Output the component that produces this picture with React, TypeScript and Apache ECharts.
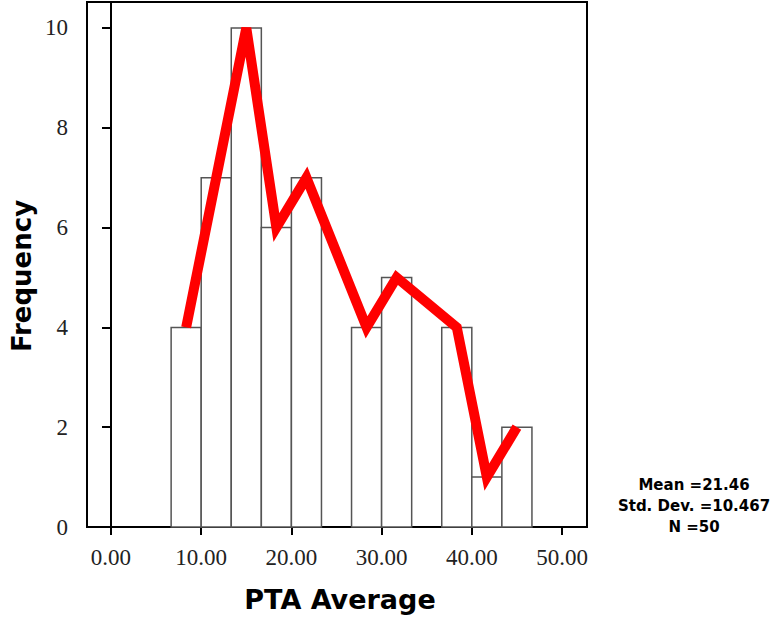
import React, { useEffect, useRef } from "react";
import * as echarts from "echarts";

// Histogram bins (PTA Average)
const binStarts = [6.667, 10, 13.333, 16.667, 20, 23.333, 26.667, 30, 33.333, 36.667, 40, 43.333];
const binEnds = [10, 13.333, 16.667, 20, 23.333, 26.667, 30, 33.333, 36.667, 40, 43.333, 46.667];
const counts = [4, 7, 10, 6, 7, 0, 4, 5, 0, 4, 1, 2];
const xTickValues = [0, 10, 20, 30, 40, 50];
const yTickValues = [0, 2, 4, 6, 8, 10];
const statLines = ["Mean =21.46", "Std. Dev. =10.467", "N =50"];

export default function App() {
  const ref = useRef<HTMLDivElement>(null);

  useEffect(() => {
    if (!ref.current) return;
    const chart = echarts.init(ref.current, null, { renderer: "svg" });

    const barData = binStarts.map((s, i) => [s, binEnds[i], counts[i]]);
    const lineData = binStarts
      .map((s, i) => [(s + binEnds[i]) / 2, counts[i]])
      .filter((d) => d[1] > 0);

    const statY = [485, 506, 527];

    chart.setOption({
      animation: false,
      backgroundColor: "#fff",
      grid: {
        left: 87,
        right: 187,
        top: 2,
        bottom: 91,
        show: true,
        borderColor: "#000",
        borderWidth: 2,
        backgroundColor: "transparent",
      },
      xAxis: {
        type: "value",
        min: -2.66,
        max: 52.77,
        axisLine: { show: true, lineStyle: { color: "#000", width: 2 } },
        axisTick: {
          show: true,
          customValues: xTickValues,
          length: 8,
          lineStyle: { color: "#000", width: 2 },
        },
        axisLabel: {
          customValues: xTickValues,
          formatter: (v: number) => v.toFixed(2),
          fontFamily: "Liberation Serif",
          fontSize: 23,
          color: "#222",
          margin: 19,
        },
        splitLine: { show: false },
      },
      yAxis: {
        type: "value",
        min: 0,
        max: 10.52,
        axisLine: { show: true, lineStyle: { color: "#000", width: 2 } },
        axisTick: {
          show: true,
          customValues: yTickValues,
          length: 9,
          lineStyle: { color: "#000", width: 2 },
        },
        axisLabel: {
          customValues: yTickValues,
          fontFamily: "Liberation Serif",
          fontSize: 23,
          color: "#222",
          margin: 19,
        },
        splitLine: { show: false },
      },
      series: [
        {
          type: "custom",
          data: barData,
          encode: { x: [0, 1], y: 2 },
          renderItem: (params: any, api: any) => {
            const s = api.value(0);
            const e = api.value(1);
            const c = api.value(2);
            if (!c) return null;
            const p0 = api.coord([s, c]);
            const p1 = api.coord([e, 0]);
            return {
              type: "rect",
              shape: { x: p0[0], y: p0[1], width: p1[0] - p0[0], height: p1[1] - p0[1] },
              style: { fill: "#fff", stroke: "#555", lineWidth: 1.5 },
            };
          },
          z: 2,
        },
        {
          type: "line",
          data: lineData,
          symbol: "none",
          lineStyle: { color: "#ff0000", width: 10, join: "miter", miterLimit: 10, cap: "butt" },
          z: 3,
        },
      ],
      graphic: [
        {
          type: "text",
          x: 22,
          y: 276,
          rotation: Math.PI / 2,
          style: {
            text: "Frequency",
            font: 'bold 26px "DejaVu Sans"',
            fill: "#000",
            textAlign: "center",
            textVerticalAlign: "middle",
          },
        },
        {
          type: "text",
          x: 340,
          y: 599,
          style: {
            text: "PTA Average",
            font: 'bold 27px "DejaVu Sans"',
            fill: "#000",
            textAlign: "center",
            textVerticalAlign: "middle",
          },
        },
        ...statLines.map((t, i) => ({
          type: "text",
          x: 694,
          y: statY[i],
          style: {
            text: t,
            font: 'bold 15px "DejaVu Sans"',
            fill: "#000",
            textAlign: "center",
            textVerticalAlign: "middle",
          },
        })),
      ],
    });

    return () => chart.dispose();
  }, []);

  return (
    <div
      ref={ref}
      style={{ position: "absolute", left: 0, top: 0, width: 774, height: 618 }}
    />
  );
}
